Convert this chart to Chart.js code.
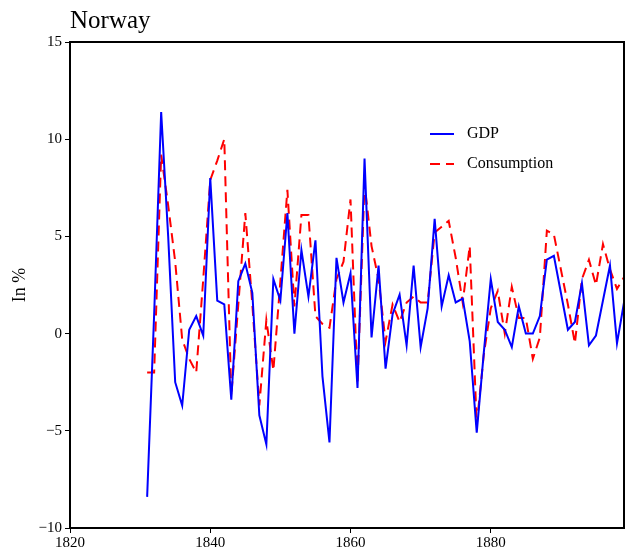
<!DOCTYPE html>
<html>
<head>
<meta charset="utf-8">
<script src="https://cdn.jsdelivr.net/npm/chart.js@4/dist/chart.umd.min.js"></script>
<style>
  html, body { margin: 0; padding: 0; background: #fff; }
  #wrap { width: 627px; height: 554px; }
</style>
</head>
<body>
<div id="wrap"><canvas id="chart" width="627" height="554"></canvas></div>
<script>
// Annual growth rates, Norway (in %)
const years = [
  1831, 1832, 1833, 1834, 1835, 1836, 1837, 1838, 1839, 1840,
  1841, 1842, 1843, 1844, 1845, 1846, 1847, 1848, 1849, 1850,
  1851, 1852, 1853, 1854, 1855, 1856, 1857, 1858, 1859, 1860,
  1861, 1862, 1863, 1864, 1865, 1866, 1867, 1868, 1869, 1870,
  1871, 1872, 1873, 1874, 1875, 1876, 1877, 1878, 1879, 1880,
  1881, 1882, 1883, 1884, 1885, 1886, 1887, 1888, 1889, 1890,
  1891, 1892, 1893, 1894, 1895, 1896, 1897, 1898, 1899
];

const gdp = [
  -8.4, 1.0, 11.4, 5.0, -2.5, -3.7, 0.2, 0.9, -0.1, 8.0,
  1.7, 1.5, -3.4, 2.7, 3.6, 2.1, -4.2, -5.7, 2.8, 1.7,
  6.2, 0.0, 4.3, 1.9, 4.8, -2.2, -5.6, 3.9, 1.6, 3.1,
  -2.8, 9.0, -0.2, 3.5, -1.8, 1.0, 2.0, -0.6, 3.5, -0.7,
  1.3, 5.9, 1.4, 3.0, 1.6, 1.8, -0.4, -5.1, -1.0, 2.8,
  0.6, 0.2, -0.7, 1.4, 0.0, 0.0, 0.9, 3.8, 4.0, 2.1,
  0.2, 0.6, 2.6, -0.6, -0.1, 1.7, 3.5, -0.5, 1.6
];

const consumption = [
  -2.0, -2.0, 9.2, 6.6, 3.7, -0.3, -1.3, -2.0, 2.8, 7.9,
  8.9, 10.0, -3.2, 1.5, 6.2, 1.5, -3.7, 0.7, -1.9, 2.7,
  7.4, 1.4, 6.1, 6.1, 0.9, 0.5, 0.3, 2.8, 3.7, 6.9,
  -2.6, 7.7, 4.5, 2.8, -0.4, 1.5, 0.6, 1.6, 1.9, 1.6,
  1.6, 5.2, 5.5, 5.8, 3.9, 1.6, 4.5, -4.7, -1.1, 1.3,
  2.2, 0.0, 2.4, 0.8, 0.8, -1.3, -0.2, 5.3, 5.1, 3.3,
  1.5, -0.5, 2.8, 3.8, 2.5, 4.6, 3.3, 2.3, 2.9
];

const xTicks = [1820, 1840, 1860, 1880];
const yTicks = [-10, -5, 0, 5, 10, 15];

const SERIF = "'Liberation Serif', 'DejaVu Serif', serif";

const toPoints = vals => years.map((yr, i) => ({ x: yr, y: vals[i] }));
const fmt = v => (v < 0 ? '\u2212' + Math.abs(v) : String(v));

// Title, frame and the in-plot legend
const decorations = {
  id: 'decorations',
  afterDatasetsDraw(chart) {
    const { ctx, chartArea: a } = chart;
    ctx.save();
    ctx.strokeStyle = '#000';
    ctx.lineWidth = 2;
    ctx.strokeRect(a.left, a.top, a.right - a.left, a.bottom - a.top);

    // legend
    const lx = a.left + 360, ly = a.top + 92, gap = 30;
    chart.data.datasets.forEach((ds, i) => {
      const y = ly + i * gap;
      ctx.beginPath();
      ctx.setLineDash(ds.borderDash || []);
      ctx.strokeStyle = ds.borderColor;
      ctx.lineWidth = ds.borderWidth;
      ctx.moveTo(lx, y);
      ctx.lineTo(lx + 24, y);
      ctx.stroke();
      ctx.setLineDash([]);
      ctx.fillStyle = '#000';
      ctx.font = '16px ' + SERIF;
      ctx.textBaseline = 'middle';
      ctx.textAlign = 'left';
      ctx.fillText(ds.label, lx + 37, y);
    });

    // title
    ctx.fillStyle = '#000';
    ctx.font = '25px ' + SERIF;
    ctx.textAlign = 'left';
    ctx.textBaseline = 'alphabetic';
    ctx.fillText('Norway', a.left, 28);
    ctx.restore();
  }
};

new Chart(document.getElementById('chart'), {
  type: 'line',
  data: {
    datasets: [
      {
        label: 'GDP',
        data: toPoints(gdp),
        borderColor: '#0000ff',
        borderWidth: 2,
        pointRadius: 0,
        tension: 0,
        fill: false
      },
      {
        label: 'Consumption',
        data: toPoints(consumption),
        borderColor: '#ff0000',
        borderWidth: 2,
        borderDash: [10, 6],
        pointRadius: 0,
        tension: 0,
        fill: false
      }
    ]
  },
  options: {
    responsive: false,
    animation: false,
    layout: { padding: { top: 42, right: 3, left: 0, bottom: 0 } },
    plugins: {
      legend: { display: false },
      title: { display: false },
      tooltip: { enabled: false }
    },
    scales: {
      x: {
        type: 'linear',
        min: 1820,
        max: 1899,
        afterBuildTicks: s => { s.ticks = xTicks.map(v => ({ value: v })); },
        afterFit: s => { s.height = 26; },
        border: { display: false },
        grid: { display: true, drawOnChartArea: false, drawTicks: true, tickLength: 5, color: '#000', lineWidth: 1 },
        ticks: { color: '#000', font: { family: SERIF, size: 15 }, padding: 1, maxRotation: 0, callback: v => String(v) }
      },
      y: {
        min: -10,
        max: 15,
        afterBuildTicks: s => { s.ticks = yTicks.map(v => ({ value: v })); },
        afterFit: s => { s.width = 70; },
        border: { display: false },
        grid: { display: true, drawOnChartArea: false, drawTicks: true, tickLength: 5, color: '#000', lineWidth: 1 },
        ticks: { color: '#000', font: { family: SERIF, size: 15 }, padding: 3, callback: v => fmt(v) },
        title: { display: true, text: 'In %', color: '#000', font: { family: SERIF, size: 18 }, padding: { top: 9, bottom: 0 } }
      }
    }
  },
  plugins: [decorations]
});
</script>
</body>
</html>
